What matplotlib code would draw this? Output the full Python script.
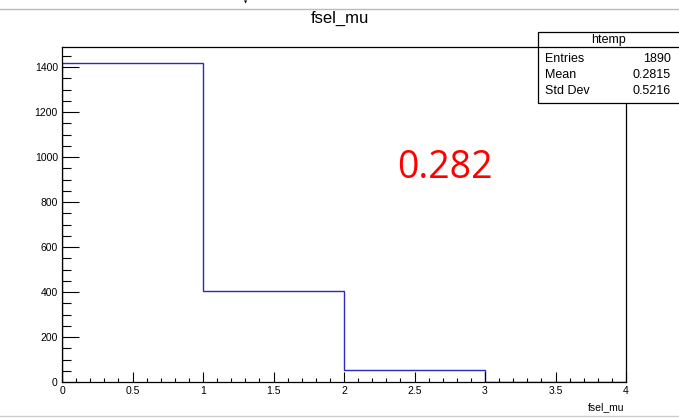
import matplotlib
matplotlib.use("Agg")
import matplotlib.pyplot as plt
from matplotlib.ticker import MultipleLocator
from matplotlib.patches import Rectangle
from matplotlib.lines import Line2D

# Data
bin_edges = [0, 1, 2, 3, 4]
counts = [1418, 406, 53, 0]
title = "fsel_mu"
xlabel = "fsel_mu"
stats_name = "htemp"
stats_labels = ["Entries", "Mean", "Std Dev"]
stats_values = ["1890", "0.2815", "0.5216"]
annotation = "0.282"

W, H = 679, 418
fig = plt.figure(figsize=(W / 100, H / 100), dpi=100)
fig.patch.set_facecolor("white")

def fx(px):
    return px / W

def fy(py):
    return 1 - py / H

# axes
ax = fig.add_axes([fx(62), fy(382), fx(626) - fx(62), fy(47) - fy(382)])
ax.stairs(counts, bin_edges, color="#2a2ac0", linewidth=1.0)
ax.set_xlim(0, 4)
ax.set_ylim(0, 1489)
ax.xaxis.set_major_locator(MultipleLocator(0.5))
ax.xaxis.set_minor_locator(MultipleLocator(0.1))
ax.yaxis.set_major_locator(MultipleLocator(200))
ax.yaxis.set_minor_locator(MultipleLocator(50))
ax.xaxis.set_major_formatter(matplotlib.ticker.FuncFormatter(lambda v, p: f"{v:g}"))
ax.tick_params(axis="x", which="major", direction="in", length=7, width=0.8,
               labelsize=7.5, pad=3, top=False)
ax.tick_params(axis="x", which="minor", direction="in", length=3.2, width=0.8, top=False)
ax.tick_params(axis="y", which="major", direction="in", length=12, width=0.8,
               labelsize=7.5, pad=3, right=False)
ax.tick_params(axis="y", which="minor", direction="in", length=6.5, width=0.8, right=False)
for lab in ax.get_xticklabels() + ax.get_yticklabels():
    lab.set_fontfamily("Liberation Sans")
for s in ax.spines.values():
    s.set_linewidth(0.9)
    s.set_color("black")

# title
fig.text(fx(340), fy(18), title, ha="center", va="center", fontsize=12,
         family="Liberation Sans")

# x label
fig.text(fx(624), fy(407), xlabel, ha="right", va="center", fontsize=7.5,
         family="Liberation Sans")

# annotation
fig.text(fx(445), fy(168), annotation, ha="center", va="center", fontsize=27,
         color="red", family="Open Sans")

# stats box
bx0, by0, bx1, by1 = 538, 32, 690, 103
fig.patches.append(Rectangle((fx(bx0), fy(by1)), fx(bx1) - fx(bx0), fy(by0) - fy(by1),
                             transform=fig.transFigure, facecolor="white",
                             edgecolor="black", linewidth=0.9, zorder=5))
fig.lines.append(Line2D([fx(bx0), fx(bx1)], [fy(47), fy(47)], transform=fig.transFigure,
                        color="black", linewidth=0.9, zorder=6))
fig.text(fx(608), fy(39.5), stats_name, ha="center", va="center", fontsize=9,
         family="Liberation Sans", zorder=7)
for i, (lab, val) in enumerate(zip(stats_labels, stats_values)):
    yy = 59 + 16 * i
    fig.text(fx(545), fy(yy), lab, ha="left", va="center", fontsize=9,
             family="Liberation Sans", zorder=7)
    fig.text(fx(671), fy(yy), val, ha="right", va="center", fontsize=9,
             family="Liberation Sans", zorder=7)

# window lines
fig.lines.append(Line2D([0, 1], [fy(9), fy(9)], transform=fig.transFigure,
                        color="#bbbbbb", linewidth=1.0))
fig.lines.append(Line2D([0, 1], [fy(416), fy(416)], transform=fig.transFigure,
                        color="#cccccc", linewidth=1.0))
fig.text(fx(246), fy(2), "\u25BC", ha="center", va="center", fontsize=3, color="black")

fig.savefig("out.png", dpi=100)
